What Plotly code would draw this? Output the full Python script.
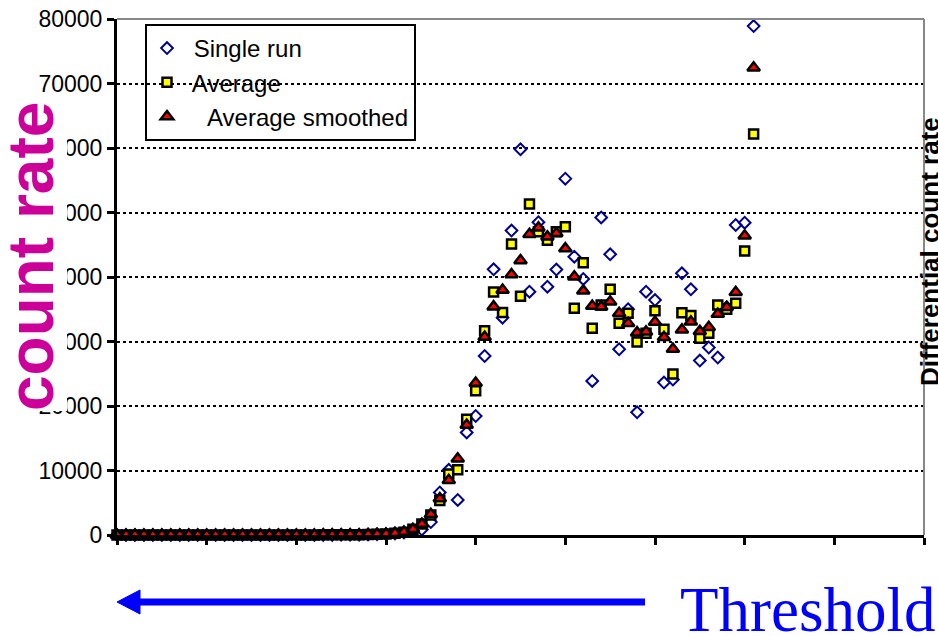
import plotly.graph_objects as go

# ---------------- data ----------------
threshold_index = list(range(72))

single_run = [0, 0, 0, 0, 0, 0, 0, 0, 0, 0,
              0, 0, 0, 0, 0, 0, 0, 0, 0, 0,
              0, 10, 10, 20, 20, 30, 40, 50, 70, 100,
              150, 250, 400, 650, 850, 2000, 6600, 10100, 5430, 15900,
              18450, 27750, 41190, 33700, 47200, 59800, 37720, 48500, 38500, 41150,
              55250, 43150, 39700, 23880, 49230, 43520, 28800, 35000, 19020, 37720,
              36430, 23640, 24100, 40570, 38090, 27050, 29070, 27520, 35300, 48060,
              48420, 78900]

average = [0, 0, 0, 0, 0, 0, 0, 0, 0, 0,
           0, 0, 0, 0, 0, 0, 0, 0, 0, 0,
           0, 10, 10, 20, 20, 30, 40, 50, 70, 100,
           150, 260, 420, 880, 1700, 3100, 5350, 9460, 10130, 17950,
           22380, 31660, 37680, 34500, 45120, 37000, 51320, 47030, 45680, 47030,
           47800, 35150, 42220, 32040, 35660, 38110, 32820, 34370, 29920, 31270,
           34760, 31890, 24960, 34470, 34050, 30490, 31270, 35660, 35000, 35920,
           44030, 62170]

average_smoothed = [0, 0, 0, 0, 0, 0, 0, 0, 0, 0,
                    0, 0, 0, 0, 0, 0, 0, 0, 0, 0,
                    0, 10, 10, 20, 20, 30, 40, 50, 70, 100,
                    150, 260, 450, 880, 1700, 3200, 5640, 8480, 11830, 17050,
                    23560, 30700, 35400, 37990, 40390, 42560, 46620, 47620, 46250, 46770,
                    44400, 40050, 37850, 35500, 35400, 36170, 34370, 32820, 31370, 31520,
                    33020, 30670, 28820, 31830, 33070, 31570, 32220, 34260, 35300, 37630,
                    46400, 72450]

y_ticks = [0, 10000, 20000, 30000, 40000, 50000, 60000, 70000, 80000]
x_ticks = [0, 10, 20, 30, 40, 50, 60, 70, 80, 90]

# ---------------- figure ----------------
W, H = 938, 636
L, R, T, B = 117, 14, 19, 101
PW, PH = W - L - R, H - T - B


def px(xp):
    return (xp - L) / PW


def py(yp):
    return (H - B - yp) / PH


fig = go.Figure()
fig.add_trace(go.Scatter(
    x=threshold_index, y=single_run, mode="markers", name="\u00a0Single run",
    legendgroup="a", cliponaxis=False,
    marker=dict(symbol="diamond-open", size=9, color="#000090", line=dict(width=2, color="#000090"))))
fig.add_trace(go.Scatter(
    x=threshold_index, y=average, mode="markers", name="\u2009Average",
    legendgroup="b", cliponaxis=False,
    marker=dict(symbol="square", size=9, color="#ffff00", line=dict(width=2.5, color="black"))))
fig.add_trace(go.Scatter(
    x=threshold_index, y=average_smoothed, mode="markers",
    name="\u00a0\u00a0\u00a0Average smoothed",
    legendgroup="c", cliponaxis=False,
    marker=dict(symbol="triangle-up", size=11, color="#ff0000", line=dict(width=2.5, color="black"))))

font_main = "Liberation Sans, Arial, sans-serif"

fig.update_layout(
    width=W, height=H,
    margin=dict(l=L, r=R, t=T, b=B, pad=0, autoexpand=False),
    paper_bgcolor="white", plot_bgcolor="white",
    font=dict(family=font_main, size=23, color="black"),
    showlegend=True,
    legend=dict(
        x=px(145), y=py(24), xanchor="left", yanchor="top",
        bgcolor="rgba(0,0,0,0)", bordercolor="black", borderwidth=2,
        font=dict(family=font_main, size=24, color="black"),
        tracegroupgap=0, traceorder="normal",
    ),
    xaxis=dict(
        range=[0, 90], tickvals=x_ticks, showticklabels=False,
        ticks="outside", ticklen=7, tickwidth=3, tickcolor="black",
        showline=True, linecolor="black", linewidth=3,
        showgrid=False, zeroline=False, automargin=False,
    ),
    yaxis=dict(
        range=[0, 80000], tickvals=y_ticks, ticktext=[str(v) for v in y_ticks],
        ticks="outside", ticklen=7, tickwidth=3, tickcolor="black",
        tickfont=dict(family=font_main, size=23, color="black"),
        showline=True, linecolor="black", linewidth=3,
        showgrid=True, gridcolor="black", gridwidth=2, griddash="3px,3px",
        zeroline=False, automargin=False,
    ),
)

shapes = [
    # gray top/right plot border
    dict(type="line", xref="paper", yref="paper", x0=0, x1=1, y0=1, y1=1,
         line=dict(color="#888888", width=2), layer="above"),
    dict(type="line", xref="paper", yref="paper", x0=1, x1=1, y0=0, y1=1,
         line=dict(color="#888888", width=2), layer="above"),
    # white box behind the big y title (covers part of tick labels)
    dict(type="rect", xref="paper", yref="paper", x0=px(0), x1=px(67), y0=py(411), y1=py(95),
         fillcolor="white", line=dict(width=0), layer="above"),
    # Threshold arrow
    dict(type="line", xref="paper", yref="paper", x0=px(136), x1=px(645), y0=py(602), y1=py(602),
         line=dict(color="#0000ff", width=7), layer="above"),
    dict(type="path", xref="paper", yref="paper",
         path=f"M {px(117)},{py(602)} L {px(140)},{py(590)} L {px(140)},{py(614)} Z",
         fillcolor="#0000ff", line=dict(color="#0000ff", width=1), layer="above"),
]
fig.update_layout(shapes=shapes)

fig.add_annotation(
    text="<b>count rate</b>", xref="paper", yref="paper",
    x=px(31), y=py(257), xanchor="center", yanchor="middle", textangle=-90,
    showarrow=False, font=dict(family=font_main, size=64, color="#cc0099"))
fig.add_annotation(
    text="<b>Differential count rate</b>", xref="paper", yref="paper",
    x=px(913), y=py(252), xanchor="left", yanchor="middle", textangle=-90,
    showarrow=False, font=dict(family=font_main, size=26, color="black"))
fig.add_annotation(
    text="Threshold", xref="paper", yref="paper",
    x=px(807), y=py(610), xanchor="center", yanchor="middle",
    showarrow=False, font=dict(family="Liberation Serif, Times New Roman, serif", size=63, color="#0000ff"))

fig.write_html("out.html")
